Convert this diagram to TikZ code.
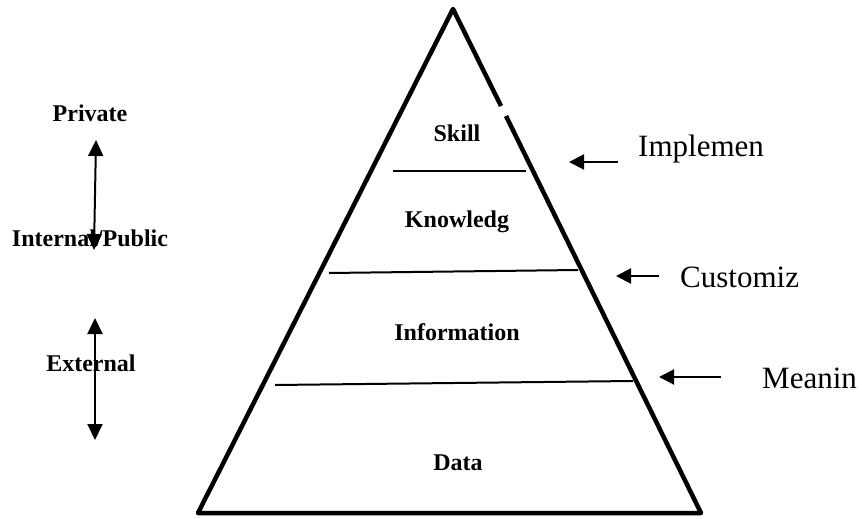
\documentclass[tikz,border=0pt]{standalone}
\usepackage{fontspec}
\setmainfont{Liberation Serif}
\usetikzlibrary{arrows.meta}
\begin{document}
\begin{tikzpicture}[x=1pt,y=-1pt,
  edge/.style={line width=4.5pt,line join=round},
  band/.style={line width=2pt},
  lvl/.style={font=\fontsize{24}{28}\selectfont\bfseries,inner sep=0pt},
  side/.style={font=\fontsize{24}{28}\selectfont\bfseries,inner sep=0pt},
  act/.style={font=\fontsize{31}{36}\selectfont,inner sep=0pt,anchor=west},
  dbl/.style={line width=2pt,{Triangle[length=16pt,width=15pt]}-{Triangle[length=16pt,width=15pt]}},
  sgl/.style={line width=2pt,-{Triangle[length=15pt,width=15pt]}}]
\useasboundingbox (0,0) rectangle (862,519);
% triangle
\coordinate (apex) at (453,9);
\coordinate (bl) at (198,513);
\coordinate (br) at (701,513);
\coordinate (g1) at (501,106);
\coordinate (g2) at (506,116);
\draw[edge] (g1) -- (apex) -- (bl) -- (br) -- (g2);
% bands
\coordinate (s1) at (393,171); \coordinate (s2) at (526,171);
\coordinate (k1) at (329,273); \coordinate (k2) at (578,270);
\coordinate (i1) at (275,385); \coordinate (i2) at (633,381);
\draw[band] (s1) -- (s2);
\draw[band] (k1) -- (k2);
\draw[band] (i1) -- (i2);
% level labels
\node[lvl] (skill) at (457,133) {Skill};
\node[lvl] (know) at (457,222) {Knowledg};
\node[lvl] (info) at (457,332) {Information};
\node[lvl] (data) at (458,463) {Data};
% side labels
\node[side] (priv) at (90,113) {Private};
\node[side] (intp) at (90,238) {Internal/Public};
\node[side] (ext) at (91,363) {External};
\coordinate (a1t) at (96,140); \coordinate (a1b) at (94,250);
\coordinate (a2t) at (95,318); \coordinate (a2b) at (95,440);
\draw[dbl] (a1t) -- (a1b);
\draw[dbl] (a2t) -- (a2b);
% right labels
\node[act] (impl) at (638,149) {Implemen};
\node[act] (cust) at (680,277) {Customiz};
\node[act] (mean) at (762,378) {Meanin};
\coordinate (r1s) at (618,162); \coordinate (r1e) at (569,162);
\coordinate (r2s) at (659,276); \coordinate (r2e) at (616,276);
\coordinate (r3s) at (721,377); \coordinate (r3e) at (659,377);
\draw[sgl] (r1s) -- (r1e);
\draw[sgl] (r2s) -- (r2e);
\draw[sgl] (r3s) -- (r3e);
\end{tikzpicture}
\end{document}
